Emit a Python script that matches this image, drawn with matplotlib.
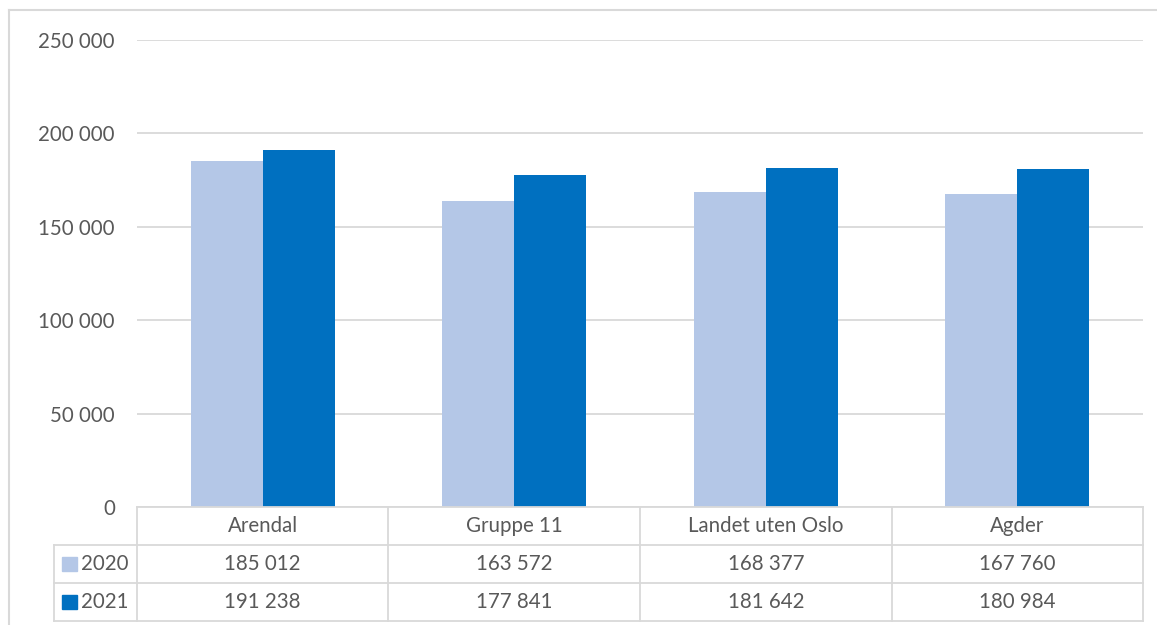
import matplotlib.pyplot as plt
import numpy as np
from matplotlib.lines import Line2D
from matplotlib.patches import Rectangle

categories = ['Arendal', 'Gruppe 11', 'Landet uten Oslo', 'Agder']
series_names = ['2020', '2021']
values_2020 = [185012, 163572, 168377, 167760]
values_2021 = [191238, 177841, 181642, 180984]
yticks = [0, 50000, 100000, 150000, 200000, 250000]

colors = ['#B4C7E7', '#0070C0']
text_color = '#595959'
line_color = '#D9D9D9'
fs = 14.8
plt.rcParams['font.family'] = ['Lato', 'DejaVu Sans']

W, H = 1157, 625
fig = plt.figure(figsize=(W / 100, H / 100), dpi=100)


def fx(px):
    return px / W


def fy(py):
    return 1 - py / H


# plot area in pixel coords
left, right, top, bottom = 137, 1143, 40, 507
ax = fig.add_axes([fx(left), fy(bottom), fx(right - left), fy(top) - fy(bottom)])

x = np.arange(len(categories))
bw = 0.287
ax.bar(x - bw / 2, values_2020, bw, color=colors[0], zorder=3)
ax.bar(x + bw / 2, values_2021, bw, color=colors[1], zorder=3)
ax.set_xlim(-0.5, len(categories) - 0.5)
ax.set_ylim(0, 250000)
ax.set_yticks(yticks)
ax.set_yticklabels([f'{v:,}'.replace(',', ' ') for v in yticks])
ax.tick_params(axis='y', length=0, pad=16, labelsize=fs, labelcolor=text_color)
ax.set_xticks([])
ax.grid(axis='y', color=line_color, linewidth=1.3, zorder=0)
for s in ax.spines.values():
    s.set_visible(False)

# outer chart border
fig.add_artist(Line2D([fx(9), fx(9)], [fy(10), fy(625)], color=line_color, lw=1.5))
fig.add_artist(Line2D([fx(9), fx(1160)], [fy(10), fy(10)], color=line_color, lw=1.5))

# data table
row_y = [507, 545, 583, 621]
tab_left = 54
col_w = (right - left) / len(categories)
col_x = [left + i * col_w for i in range(len(categories) + 1)]

def hline(x0, x1, y):
    fig.add_artist(Line2D([fx(x0), fx(x1)], [fy(y), fy(y)], color=line_color, lw=1.3))

def vline(x0, y0, y1):
    fig.add_artist(Line2D([fx(x0), fx(x0)], [fy(y0), fy(y1)], color=line_color, lw=1.3))

hline(left, right, row_y[0])
for yy in row_y[1:]:
    hline(tab_left, right, yy)
vline(tab_left, row_y[1], row_y[3])
for xx in col_x:
    vline(xx, row_y[0], row_y[3])

for i, c in enumerate(categories):
    cx = (col_x[i] + col_x[i + 1]) / 2
    fig.text(fx(cx), fy((row_y[0] + row_y[1]) / 2), c, ha='center', va='center',
             fontsize=fs, color=text_color)

for r, (name, vals) in enumerate(zip(series_names, [values_2020, values_2021])):
    cy = (row_y[r + 1] + row_y[r + 2]) / 2
    fig.add_artist(Rectangle((fx(62), fy(cy + 7)), fx(15), fy(cy - 7) - fy(cy + 7),
                             color=colors[r]))
    fig.text(fx(81), fy(cy), name, ha='left', va='center', fontsize=fs, color=text_color)
    for i, v in enumerate(vals):
        cx = (col_x[i] + col_x[i + 1]) / 2
        fig.text(fx(cx), fy(cy), f'{v:,}'.replace(',', ' '), ha='center', va='center',
                 fontsize=fs, color=text_color)

fig.savefig('out.png', dpi=100, facecolor='white')
